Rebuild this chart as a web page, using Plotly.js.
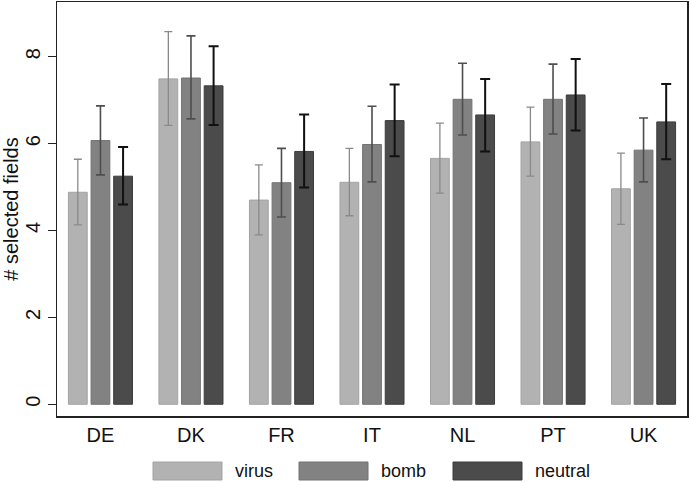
<!DOCTYPE html>
<html>
<head>
<meta charset="utf-8">
<script src="https://cdn.plot.ly/plotly-3.0.1.min.js"></script>
<style>html,body{margin:0;padding:0;background:#fff;}#chart{width:690px;height:482px;}</style>
</head>
<body>
<div id="chart"></div>
<script>
var countries = ["DE", "DK", "FR", "IT", "NL", "PT", "UK"];
var seriesNames = ["virus", "bomb", "neutral"];

var virusMean  = [4.88, 7.49, 4.70, 5.11, 5.66, 6.04, 4.96];
var virusHigh  = [5.64, 8.58, 5.51, 5.89, 6.47, 6.84, 5.78];
var virusLow   = [4.13, 6.42, 3.90, 4.34, 4.86, 5.25, 4.14];

var bombMean   = [6.07, 7.51, 5.10, 5.98, 7.02, 7.02, 5.85];
var bombHigh   = [6.87, 8.48, 5.89, 6.86, 7.85, 7.83, 6.59];
var bombLow    = [5.28, 6.57, 4.31, 5.12, 6.20, 6.22, 5.12];

var neutralMean = [5.25, 7.33, 5.82, 6.53, 6.66, 7.12, 6.50];
var neutralHigh = [5.92, 8.24, 6.67, 7.36, 7.49, 7.95, 7.37];
var neutralLow  = [4.60, 6.43, 4.99, 5.71, 5.82, 6.30, 5.64];

var yTicks = [0, 2, 4, 6, 8];

var fills   = ["#b2b2b2", "#828282", "#4b4b4b"];
var borders = ["#a3a3a3", "#737373", "#3c3c3c"];
var errCols = ["#8a8a8a", "#4e4e4e", "#111111"];
var errThick = [1.3, 1.6, 2.0];
var errCap = [4, 4.5, 5];

var means = [virusMean, bombMean, neutralMean];
var highs = [virusHigh, bombHigh, neutralHigh];
var lows  = [virusLow, bombLow, neutralLow];

var traces = seriesNames.map(function (name, i) {
  return {
    type: "bar",
    name: name,
    x: countries,
    y: means[i],
    marker: {color: fills[i], line: {color: borders[i], width: 1}},
    error_y: {
      type: "data",
      symmetric: false,
      array: highs[i].map(function (h, k) { return h - means[i][k]; }),
      arrayminus: means[i].map(function (m, k) { return m - lows[i][k]; }),
      color: errCols[i],
      thickness: errThick[i],
      width: errCap[i]
    },
    hoverinfo: "x+y+name"
  };
});

var font = "Liberation Sans, Arial, sans-serif";

// custom legend (wide swatches, Stata style)
var L = 57, W = 630, B = 416, H = 414;
function px(x) { return (x - L) / W; }
function py(y) { return (B - y) / H; }
var swX = [153, 299, 453];
var shapes = [];
var annotations = [];
seriesNames.forEach(function (name, i) {
  shapes.push({
    type: "rect", xref: "paper", yref: "paper",
    x0: px(swX[i]), x1: px(swX[i] + 69),
    y0: py(480), y1: py(462),
    fillcolor: fills[i], line: {color: borders[i], width: 1}
  });
  annotations.push({
    xref: "paper", yref: "paper",
    x: px(swX[i] + 80), y: py(471),
    xanchor: "left", yanchor: "middle",
    text: name, showarrow: false,
    font: {family: font, size: 18, color: "#111"}
  });
});

var layout = {
  width: 690, height: 482,
  margin: {l: 57, r: 3, t: 2, b: 66, pad: 0},
  paper_bgcolor: "#ffffff",
  plot_bgcolor: "#ffffff",
  showlegend: false,
  barmode: "group",
  bargap: 0.25,
  bargroupgap: 0.17,
  font: {family: font, color: "#111"},
  xaxis: {
    type: "category",
    range: [-0.48, 6.48],
    showline: true, mirror: true, linecolor: "#222", linewidth: 1.5,
    ticks: "", showgrid: false, zeroline: false,
    tickfont: {family: font, size: 20, color: "#111"},
    fixedrange: true
  },
  yaxis: {
    range: [-0.27, 9.26],
    tickvals: yTicks,
    ticktext: yTicks.map(String),
    tickangle: -90,
    ticks: "outside", ticklen: 8, tickwidth: 1.3, tickcolor: "#222",
    showline: true, mirror: true, linecolor: "#222", linewidth: 1.5,
    showgrid: false, zeroline: false,
    tickfont: {family: font, size: 20, color: "#111"},
    title: {text: "# selected fields", font: {family: font, size: 20, color: "#111"}, standoff: 8},
    fixedrange: true
  },
  shapes: shapes,
  annotations: annotations
};

Plotly.newPlot("chart", traces, layout, {displayModeBar: false, staticPlot: true});
</script>
</body>
</html>
